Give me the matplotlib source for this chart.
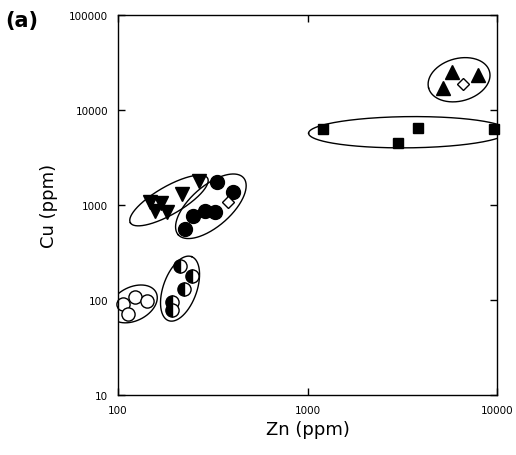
import numpy as np
import matplotlib
matplotlib.use('Agg')
from matplotlib import pyplot as plt

# Zn / Cu contents (ppm)
open_zn = [106, 123, 142, 113]
open_cu = [91, 108, 98, 71]
half_zn = [212, 246, 223, 193, 193]
half_cu = [228, 179, 131, 95, 78]
tri_dn_zn = [147, 169, 157, 181, 218, 267]
tri_dn_cu = [1076, 1050, 865, 844, 1306, 1790]
circ_zn = [333, 404, 288, 325, 249, 226]
circ_cu = [1746, 1371, 865, 844, 766, 559]
circ_dia_zn = [380]
circ_dia_cu = [1076]
sq_zn = [1208, 3828, 3006, 9640]
sq_cu = [6310, 6470, 4500, 6310]
tri_up_zn = [5795, 7943, 5188]
tri_up_cu = [25100, 23350, 17060]
dia_zn = [6620]
dia_cu = [18790]

x_ticks = [100, 1000, 10000]
y_ticks = [10, 100, 1000, 10000, 100000]

# pixels per decade on each axis, used to shape the outlines
SX, SY = 190.0, 95.0


def outline(ax, zn, cu, pad_a=12, pad_b=10, n=300):
    """draw an ellipse round a group of points (computed in log space)"""
    p = np.column_stack([np.log10(zn) * SX, np.log10(cu) * SY])
    c = p.mean(axis=0)
    d = p - c
    evals, evecs = np.linalg.eigh(np.cov(d.T))
    evecs = evecs[:, ::-1]
    proj = d @ evecs
    a = np.abs(proj[:, 0]).max() + pad_a
    b = np.abs(proj[:, 1]).max() + pad_b
    t = np.linspace(0, 2 * np.pi, n)
    e = np.column_stack([a * np.cos(t), b * np.sin(t)]) @ evecs.T + c
    ax.plot(10 ** (e[:, 0] / SX), 10 ** (e[:, 1] / SY), color='black', lw=1.0)


fig = plt.figure(figsize=(5.16, 4.56), dpi=100)
ax = fig.add_axes([0.2287, 0.1316, 0.7345, 0.8333])
ax.set_xscale('log')
ax.set_yscale('log')

mk = dict(linestyle='none', markeredgecolor='black', clip_on=False)
ax.plot(open_zn, open_cu, marker='o', ms=9.5, markerfacecolor='white', mew=1.0, **mk)
ax.plot(half_zn, half_cu, marker='o', ms=9.5, fillstyle='left', markerfacecolor='black',
        markerfacecoloralt='white', mew=1.0, **mk)
ax.plot(tri_dn_zn, tri_dn_cu, marker='v', ms=10.5, markerfacecolor='black', **mk)
ax.plot(circ_zn, circ_cu, marker='o', ms=10, markerfacecolor='black', **mk)
ax.plot(circ_dia_zn, circ_dia_cu, marker='D', ms=6, markerfacecolor='white', mew=1.0, **mk)
ax.plot(sq_zn, sq_cu, marker='s', ms=7.5, markerfacecolor='black', **mk)
ax.plot(tri_up_zn, tri_up_cu, marker='^', ms=10.5, markerfacecolor='black', **mk)
ax.plot(dia_zn, dia_cu, marker='D', ms=6, markerfacecolor='white', mew=1.0, **mk)

outline(ax, open_zn, open_cu)
outline(ax, half_zn, half_cu, pad_a=11, pad_b=9)
outline(ax, tri_dn_zn, tri_dn_cu, pad_a=9, pad_b=5)
outline(ax, circ_zn + circ_dia_zn, circ_cu + circ_dia_cu, pad_a=9, pad_b=6)
outline(ax, sq_zn, sq_cu, pad_a=14, pad_b=5)
outline(ax, tri_up_zn + dia_zn, tri_up_cu + dia_cu, pad_a=12, pad_b=12)

ax.set_xlim(100, 10000)
ax.set_ylim(10, 100000)
ax.set_xticks(x_ticks)
ax.set_xticklabels([str(v) for v in x_ticks])
ax.set_yticks(y_ticks)
ax.set_yticklabels([str(v) for v in y_ticks])
ax.minorticks_off()
ax.tick_params(direction='in', length=5, width=1, labelsize=7.5, pad=7,
               top=True, right=True)
for s in ax.spines.values():
    s.set_linewidth(1.0)

ax.set_xlabel('Zn (ppm)', fontsize=13, labelpad=4)
ax.set_ylabel('Cu (ppm)', fontsize=13, labelpad=8)
fig.text(0.01, 0.955, '(a)', fontsize=15, fontweight='bold', va='center')

fig.savefig('out.png', dpi=100)
